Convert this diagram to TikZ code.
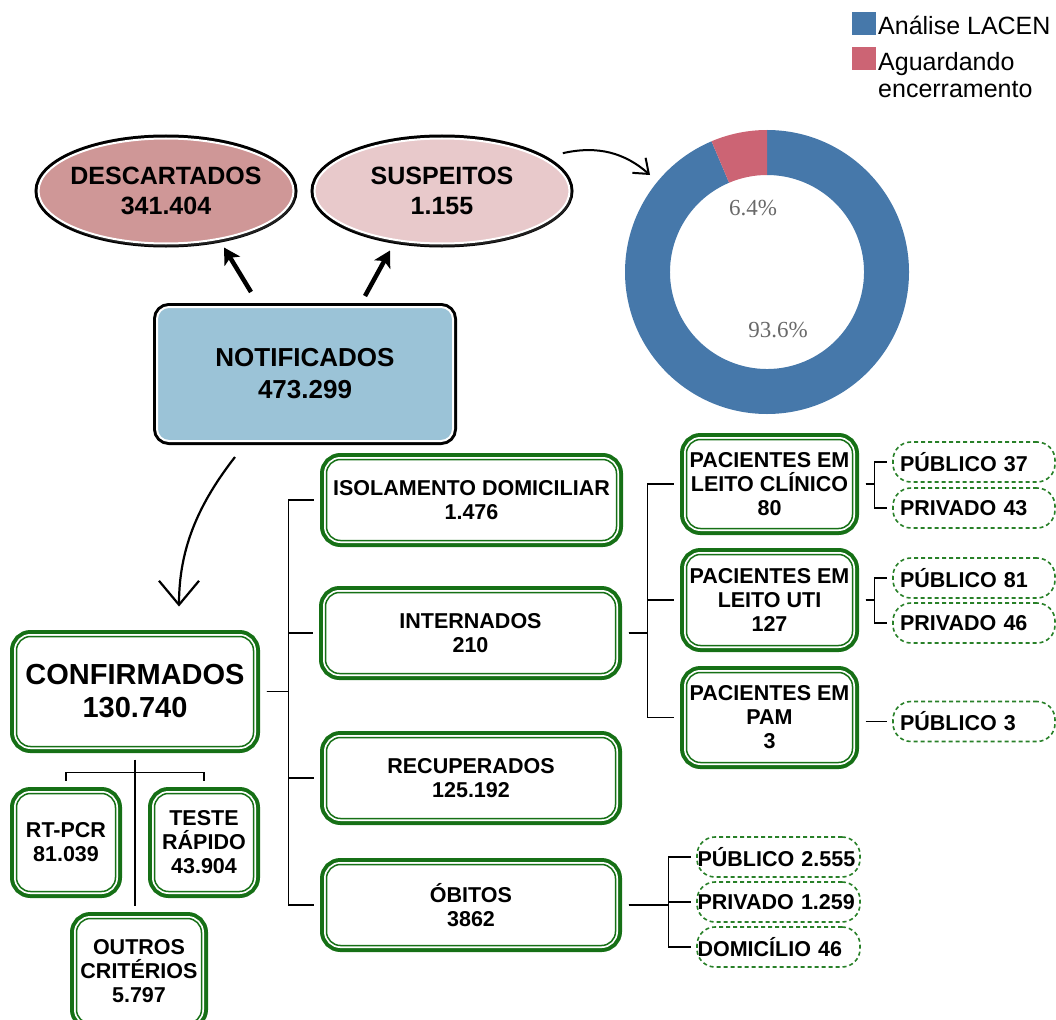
\documentclass[tikz,border=0pt]{standalone}
\usepackage{fontspec}
\setmainfont{Liberation Sans}
\newfontfamily\pctfont{Liberation Serif}
\usetikzlibrary{positioning,shapes.geometric,arrows.meta,calc,shadows}

\definecolor{dkgreen}{RGB}{22,112,22}
\definecolor{pillgreen}{RGB}{40,128,40}
\definecolor{notifblue}{RGB}{155,195,215}
\definecolor{descfill}{RGB}{207,151,151}
\definecolor{suspfill}{RGB}{232,201,203}
\definecolor{lacen}{RGB}{70,120,170}
\definecolor{aguard}{RGB}{204,100,116}
\definecolor{pctgray}{RGB}{105,105,105}

\begin{document}
\begin{tikzpicture}[x=1pt, y=-1pt,
    gbox/.style={rounded corners=14pt, fill=white, draw=dkgreen, line width=1.5pt,
      preaction={draw=dkgreen, line width=13pt},
      preaction={draw=white, line width=5pt},
      inner sep=0pt, outer sep=13pt, align=center,
      font=\bfseries\fontsize{21.5}{24}\selectfont},
    pill/.style={draw=pillgreen, dash pattern=on 4pt off 3pt, line width=1.6pt,
      rounded corners=18pt, minimum height=40pt, text width=148pt, inner xsep=7pt,
      inner ysep=0pt, outer sep=6pt, align=left,
      font=\bfseries\fontsize{21.5}{24}\selectfont},
    oval/.style={ellipse, minimum width=255pt, minimum height=105pt, inner xsep=-8pt,
      draw=white, line width=2pt, preaction={draw=black, line width=8pt},
      drop shadow={opacity=0.25, shadow xshift=2pt, shadow yshift=-3pt},
      align=center, font=\bfseries\fontsize{25}{30}\selectfont},
    tree/.style={line width=1.6pt},
    bigarrow/.style={line width=4.5pt, -{Stealth[length=16pt, width=18pt, inset=4pt]}},
    vee/.style={line width=2.2pt, -{Straight Barb[length=24pt, width=40pt]}},
    legsq/.style={minimum width=24pt, minimum height=23pt, inner sep=0pt},
    legtxt/.style={inner sep=0pt, align=left, font=\fontsize{25}{27}\selectfont},
    pct/.style={inner sep=0pt, text=pctgray, font=\pctfont\fontsize{23}{23}\selectfont}]
  \useasboundingbox (0,0) rectangle (1056,1019);

  % top part
  \node[oval, fill=descfill] (desc) at (166,191) {DESCARTADOS\\341.404};
  \node[oval, fill=suspfill] (susp) at (442,191) {SUSPEITOS\\1.155};
  \node[rounded corners=12pt, minimum width=296pt, minimum height=134pt,
    fill=notifblue, draw=white, line width=2pt,
    drop shadow={opacity=0.3, shadow xshift=3pt, shadow yshift=-3pt},
    preaction={draw=black, line width=8pt}, align=center,
    font=\bfseries\fontsize{26}{32}\selectfont] (notif) at (305,374) {NOTIFICADOS\\473.299};

  \draw[bigarrow] ($(notif.north)+(-54,-14)$) -- ($(desc.south)+(58,3)$);
  \draw[bigarrow] ($(notif.north)+(60,-10)$) -- ($(susp.south)+(-52,6)$);

  % donut
  \coordinate (donut) at (767,272);
  \fill[lacen] ($(donut)+(-90:142)$) arc[start angle=-90, end angle=247, radius=142]
    -- ($(donut)+(247:97)$) arc[start angle=247, end angle=-90, radius=97] -- cycle;
  \fill[aguard] ($(donut)+(-113:142)$) arc[start angle=-113, end angle=-90, radius=142]
    -- ($(donut)+(-90:97)$) arc[start angle=-90, end angle=-113, radius=97] -- cycle;
  \node[pct] (pctB) at (753,208) {6.4\%};
  \node[pct] (pctA) at (778,330) {93.6\%};
  \draw[line width=2pt, -{Straight Barb[length=13pt, width=20pt]}]
    ($(susp.north east)+(30,0)$) .. controls +(35,-8) and +(-25,-22) .. ($(donut)+(-117,-97)$);

  % legend
  \node[legsq, fill=lacen] (sqA) at (864,23.5) {};
  \node[legtxt, anchor=base west] (legA) at (878,35) {Análise LACEN};
  \node[legsq, fill=aguard] (sqB) at (864,59) {};
  \node[legtxt, anchor=north west] (legB) at (878,52.5) {Aguardando\\encerramento};

  % confirmados
  \node[gbox, minimum width=237pt, minimum height=110pt,
    font=\bfseries\fontsize{29}{33}\selectfont] (conf) at (135,691.5) {CONFIRMADOS\\130.740};
  \draw[vee] ($(notif.south)+(-70,15)$) .. controls +(-35,45) and +(0,-60) .. ($(conf.north)+(44,-17)$);

  \node[gbox, minimum width=99pt, minimum height=98pt] (rtpcr) at (66,842.5) {RT-PCR\\81.039};
  \node[gbox, minimum width=99pt, minimum height=98pt] (teste) at (204,842.5) {TESTE\\RÁPIDO\\43.904};
  \node[gbox, minimum width=125pt, minimum height=105pt] (outros) at (139,971) {OUTROS\\CRITÉRIOS\\5.797};
  \draw[tree] (conf.south) -- (conf.south |- outros.north);
  \draw[tree] (rtpcr.north) -- ++(0,-8) -| (teste.north);

  % second level
  \node[gbox, minimum width=290pt, minimum height=81pt] (isol) at (471.5,500) {ISOLAMENTO DOMICILIAR\\1.476};
  \node[gbox, minimum width=290pt, minimum height=81pt] (intern) at (470.5,633) {INTERNADOS\\210};
  \node[gbox, minimum width=289pt, minimum height=81pt] (recup) at (471,778) {RECUPERADOS\\125.192};
  \node[gbox, minimum width=289pt, minimum height=81pt] (obitos) at (471,905) {ÓBITOS\\3862};
  \foreach \n in {isol,intern,recup,obitos}
    \draw[tree] (conf.east) -- ++(22,0) |- (\n.west);

  % internados
  \node[gbox, minimum width=166pt, minimum height=89pt] (leitoA) at (769.5,484) {PACIENTES EM\\LEITO CLÍNICO\\80};
  \node[gbox, minimum width=166pt, minimum height=91pt] (leitoB) at (769.5,600) {PACIENTES EM\\LEITO UTI\\127};
  \node[gbox, minimum width=166pt, minimum height=90pt] (leitoC) at (769.5,717.5) {PACIENTES EM\\PAM\\3};
  \foreach \n in {leitoA,leitoB,leitoC}
    \draw[tree] (intern.east) -- ++(19,0) |- (\n.west);

  \node[pill] (pubA) at (974,462) {PÚBLICO 37};
  \node[pill] (privA) at (974,508) {PRIVADO 43};
  \node[pill] (pubB) at (974,578) {PÚBLICO 81};
  \node[pill] (privB) at (974,623) {PRIVADO 46};
  \node[pill] (pubC) at (974,721.5) {PÚBLICO 3};
  \foreach \n in {pubA,privA}
    \draw[tree] (leitoA.east) -- ++(9,0) |- (\n.west);
  \foreach \n in {pubB,privB}
    \draw[tree] (leitoB.east) -- ++(9,0) |- (\n.west);
  \draw[tree] (leitoC.east |- pubC.west) -- (pubC.west);

  % obitos
  \node[pill, text width=162pt, inner xsep=0.5pt] (pubO) at (778.5,857) {PÚBLICO 2.555};
  \node[pill, text width=162pt, inner xsep=0.5pt] (privO) at (778.5,902) {PRIVADO 1.259};
  \node[pill, text width=162pt, inner xsep=0.5pt] (domO) at (778.5,947) {DOMICÍLIO 46};
  \foreach \n in {pubO,privO,domO}
    \draw[tree] (obitos.east) -- ++(40,0) |- (\n.west);
\end{tikzpicture}
\end{document}
